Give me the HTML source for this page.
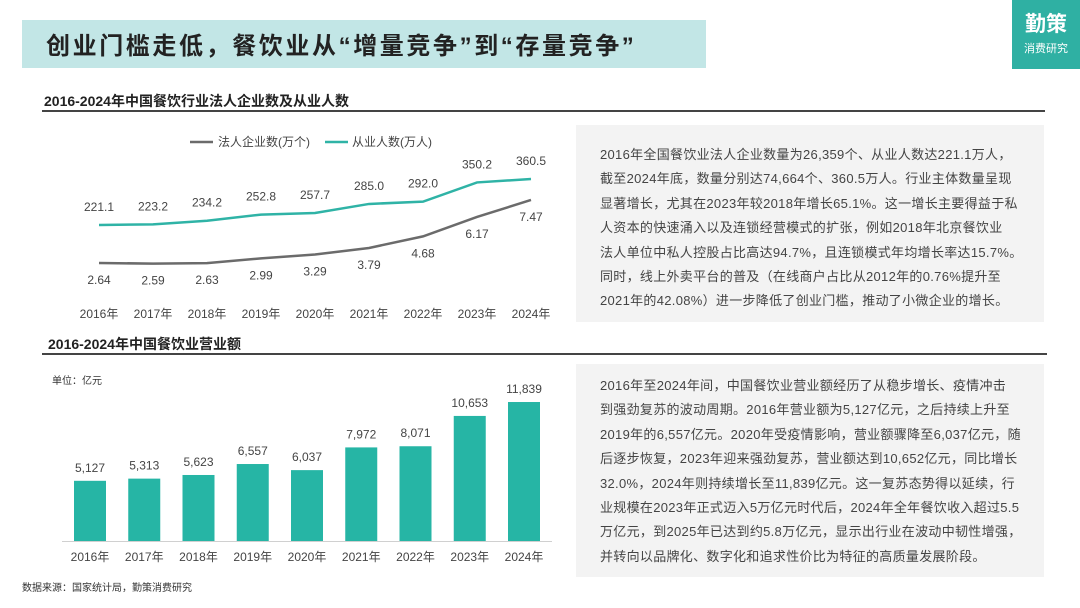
<!DOCTYPE html>
<html><head><meta charset="utf-8"><style>
body{margin:0;background:#fff;width:1080px;height:608px;overflow:hidden;font-family:"Liberation Sans","Noto Sans CJK SC",sans-serif;}
.box{position:absolute;background:#f3f3f3;color:#444;font-size:13px;line-height:24.4px;padding:0 0 0 24px;box-sizing:border-box;letter-spacing:0.3px;white-space:nowrap}
</style></head><body>
<div style="position:absolute;left:22px;top:20px;width:684px;height:48px;background:#c2e6e6"></div>
<div style="position:absolute;left:46px;top:26px;font-size:24px;font-weight:bold;color:#222;letter-spacing:2.6px">创业门槛走低，餐饮业从“增量竞争”到“存量竞争”</div>
<div style="position:absolute;left:1012px;top:0;width:68px;height:69px;background:#2fb0a3;color:#fff;text-align:center">
<div style="font-size:21px;font-weight:bold;margin-top:8px">勤策</div><div style="font-size:11px;margin-top:2px">消费研究</div></div>
<div style="position:absolute;left:44px;top:91px;font-size:14px;font-weight:bold;color:#222">2016-2024年中国餐饮行业法人企业数及从业人数</div>
<div style="position:absolute;left:42px;top:110px;width:1003px;height:2px;background:#444"></div>
<div style="position:absolute;left:48px;top:334px;font-size:14px;font-weight:bold;color:#222">2016-2024年中国餐饮业营业额</div>
<div style="position:absolute;left:42px;top:353px;width:1005px;height:2px;background:#444"></div>
<div class="box" style="left:576px;top:125px;width:468px;height:197px;padding-top:18px">2016年全国餐饮业法人企业数量为26,359个、从业人数达221.1万人，<br>截至2024年底，数量分别达74,664个、360.5万人。行业主体数量呈现<br>显著增长，尤其在2023年较2018年增长65.1%。这一增长主要得益于私<br>人资本的快速涌入以及连锁经营模式的扩张，例如2018年北京餐饮业<br>法人单位中私人控股占比高达94.7%，且连锁模式年均增长率达15.7%。<br>同时，线上外卖平台的普及（在线商户占比从2012年的0.76%提升至<br>2021年的42.08%）进一步降低了创业门槛，推动了小微企业的增长。</div>
<div class="box" style="left:576px;top:364px;width:468px;height:213px;padding-top:10px">2016年至2024年间，中国餐饮业营业额经历了从稳步增长、疫情冲击<br>到强劲复苏的波动周期。2016年营业额为5,127亿元，之后持续上升至<br>2019年的6,557亿元。2020年受疫情影响，营业额骤降至6,037亿元，随<br>后逐步恢复，2023年迎来强劲复苏，营业额达到10,652亿元，同比增长<br>32.0%，2024年则持续增长至11,839亿元。这一复苏态势得以延续，行<br>业规模在2023年正式迈入5万亿元时代后，2024年全年餐饮收入超过5.5<br>万亿元，到2025年已达到约5.8万亿元，显示出行业在波动中韧性增强，<br>并转向以品牌化、数字化和追求性价比为特征的高质量发展阶段。</div>
<div style="position:absolute;left:22px;top:579px;font-size:10px;color:#333">数据来源：国家统计局，勤策消费研究</div>
<svg id="svg" width="1080" height="608" style="position:absolute;left:0;top:0" font-family="Liberation Sans, Noto Sans CJK SC, sans-serif"></svg>
<script>
const years=["2016年","2017年","2018年","2019年","2020年","2021年","2022年","2023年","2024年"];
const firms=[2.64,2.59,2.63,2.99,3.29,3.79,4.68,6.17,7.47];
const workers=[221.1,223.2,234.2,252.8,257.7,285.0,292.0,350.2,360.5];
const revenue=[5127,5313,5623,6557,6037,7972,8071,10653,11839];
const revLabels=["5,127","5,313","5,623","6,557","6,037","7,972","8,071","10,653","11,839"];
const svg=document.getElementById('svg');const NS='http://www.w3.org/2000/svg';
function mk(t,a,p){const e=document.createElementNS(NS,t);for(const k in a)e.setAttribute(k,a[k]);(p||svg).appendChild(e);return e;}
function txt(x,y,s,a){const e=mk('text',Object.assign({x:x,y:y,'text-anchor':'middle','font-size':12,fill:'#444'},a||{}));e.textContent=s;return e;}
const xT=i=>99+i*54;
const yF=v=>297.4-v*13.04;
const yW=v=>298-v*0.33;
const TEAL='#2fb3a6',GRAY='#6b6b6b';
years.forEach((y,i)=>{const t=txt(xT(i),318,y);

});
const pf=mk('path',{d:firms.map((v,i)=>(i?'L':'M')+xT(i)+' '+yF(v)).join(''),fill:'none',stroke:GRAY,'stroke-width':2.5});


const pw=mk('path',{d:workers.map((v,i)=>(i?'L':'M')+xT(i)+' '+yW(v)).join(''),fill:'none',stroke:TEAL,'stroke-width':2.5});


firms.forEach((v,i)=>{const t=txt(xT(i),yF(v)+21,v.toFixed(2));

});
workers.forEach((v,i)=>{const t=txt(xT(i),yW(v)-14,v.toFixed(1));

});
const l1=mk('line',{x1:190,y1:142,x2:213,y2:142,stroke:GRAY,'stroke-width':2.5});


const lt1=txt(218,146,'法人企业数(万个)',{'text-anchor':'start'});


const l2=mk('line',{x1:325,y1:142,x2:348,y2:142,stroke:TEAL,'stroke-width':2.5});


const lt2=txt(352,146,'从业人数(万人)',{'text-anchor':'start'});


const xB=i=>90+i*54.25;
const yB=v=>541-v*0.01174;
const ax=mk('line',{x1:62,y1:541.5,x2:552,y2:541.5,stroke:'#d0d0d0','stroke-width':1});


const un=txt(52,384,'单位：亿元',{'text-anchor':'start','font-size':10,fill:'#333'});


revenue.forEach((v,i)=>{
const r=mk('rect',{x:xB(i)-16,y:yB(v),width:32,height:541-yB(v),fill:'#26b5a5'});


const t=txt(xB(i),yB(v)-9,revLabels[i]);


const x=txt(xB(i),561,years[i]);

});
</script>
</body></html>
